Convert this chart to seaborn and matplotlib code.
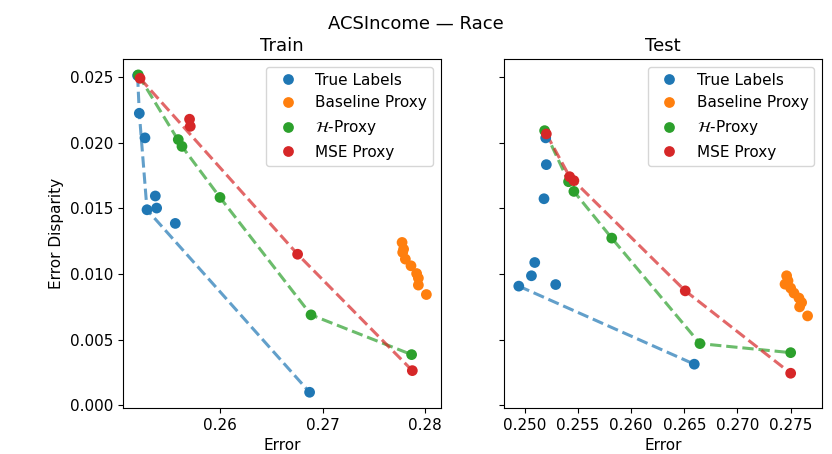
import pandas as pd
import matplotlib
matplotlib.use('Agg')
import matplotlib.pyplot as plt
import seaborn as sns

# values (error, error disparity)
methods = ['True Labels', 'Baseline Proxy', r'$\mathcal{H}$-Proxy', 'MSE Proxy']
colors = ['tab:blue', 'tab:orange', 'tab:green', 'tab:red']

# Train
train_true_err = [0.25193, 0.25210, 0.25265, 0.25285, 0.25366, 0.25379, 0.25561, 0.26871]
train_true_disp = [0.02513, 0.02225, 0.02038, 0.01490, 0.01595, 0.01503, 0.01386, 0.00099]
train_base_err = [0.27773, 0.27788, 0.27779, 0.27805, 0.27860, 0.27915, 0.27932, 0.27932, 0.28010]
train_base_disp = [0.01241, 0.01190, 0.01165, 0.01114, 0.01063, 0.01004, 0.00969, 0.00916, 0.00844]
train_h_err = [0.25200, 0.25590, 0.25626, 0.25997, 0.26885, 0.27866]
train_h_disp = [0.02518, 0.02025, 0.01973, 0.01584, 0.00689, 0.00386]
train_mse_err = [0.25217, 0.25700, 0.25707, 0.26754, 0.27873]
train_mse_disp = [0.02492, 0.02180, 0.02126, 0.01151, 0.00264]

# Test
test_true_err = [0.25197, 0.25203, 0.25181, 0.25094, 0.25063, 0.24944, 0.25291, 0.26594]
test_true_disp = [0.02038, 0.01834, 0.01574, 0.01088, 0.00987, 0.00908, 0.00920, 0.00313]
test_base_err = [0.27462, 0.27475, 0.27447, 0.27500, 0.27531, 0.27578, 0.27603, 0.27584, 0.27659]
test_base_disp = [0.00987, 0.00949, 0.00923, 0.00893, 0.00855, 0.00817, 0.00783, 0.00750, 0.00681]
test_h_err = [0.25187, 0.25412, 0.25462, 0.25818, 0.26647, 0.27500]
test_h_disp = [0.02093, 0.01704, 0.01630, 0.01274, 0.00470, 0.00401]
test_mse_err = [0.25203, 0.25422, 0.25462, 0.26509, 0.27500]
test_mse_disp = [0.02068, 0.01742, 0.01712, 0.00872, 0.00244]

# which series get a dashed frontier line
with_front = [True, False, True, True]


def make_df(series):
    rows = []
    for name, (errs, disps) in zip(methods, series):
        for e, d in zip(errs, disps):
            rows.append({'Error': e, 'Error Disparity': d, 'Method': name})
    return pd.DataFrame(rows)


def lower_hull(errs, disps):
    pts = sorted(zip(errs, disps))
    hull = []
    for p in pts:
        while len(hull) >= 2:
            o, a = hull[-2], hull[-1]
            cross = (a[0] - o[0]) * (p[1] - o[1]) - (a[1] - o[1]) * (p[0] - o[0])
            if cross <= 0:
                hull.pop()
            else:
                break
        hull.append(p)
    low = min(range(len(hull)), key=lambda i: hull[i][1])
    return hull[:low + 1]


def front_df(series):
    rows = []
    for name, (errs, disps), keep in zip(methods, series, with_front):
        if not keep:
            continue
        for e, d in lower_hull(errs, disps):
            rows.append({'Error': e, 'Error Disparity': d, 'Method': name})
    return pd.DataFrame(rows)


train = [(train_true_err, train_true_disp), (train_base_err, train_base_disp),
         (train_h_err, train_h_disp), (train_mse_err, train_mse_disp)]
test = [(test_true_err, test_true_disp), (test_base_err, test_base_disp),
        (test_h_err, test_h_disp), (test_mse_err, test_mse_disp)]

palette = dict(zip(methods, colors))

fig, axes = plt.subplots(1, 2, figsize=(8.32, 4.54), dpi=100, sharey=True)

for ax, series, title in zip(axes, [train, test], ['Train', 'Test']):
    fr = front_df(series)
    sns.lineplot(data=fr, x='Error', y='Error Disparity', hue='Method', palette=palette,
                 sort=False, estimator=None, linestyle='--', linewidth=2.2, alpha=0.7,
                 legend=False, ax=ax, zorder=1)
    sns.scatterplot(data=make_df(series), x='Error', y='Error Disparity', hue='Method',
                    hue_order=methods, palette=palette, s=60, linewidth=0, ax=ax, zorder=2)
    ax.set_title(title, fontsize=13)
    ax.legend(loc='upper right', fontsize=11)
    ax.tick_params(labelsize=11)
    ax.set_xlabel('Error', fontsize=11)
    ax.set_ylabel('Error Disparity', fontsize=11)

axes[1].set_ylabel('')
fig.suptitle('ACSIncome — Race', fontsize=13, y=0.968)
plt.subplots_adjust(left=0.148, right=0.988, bottom=0.101, top=0.870, wspace=0.2)
plt.savefig('out.png', dpi=100)
